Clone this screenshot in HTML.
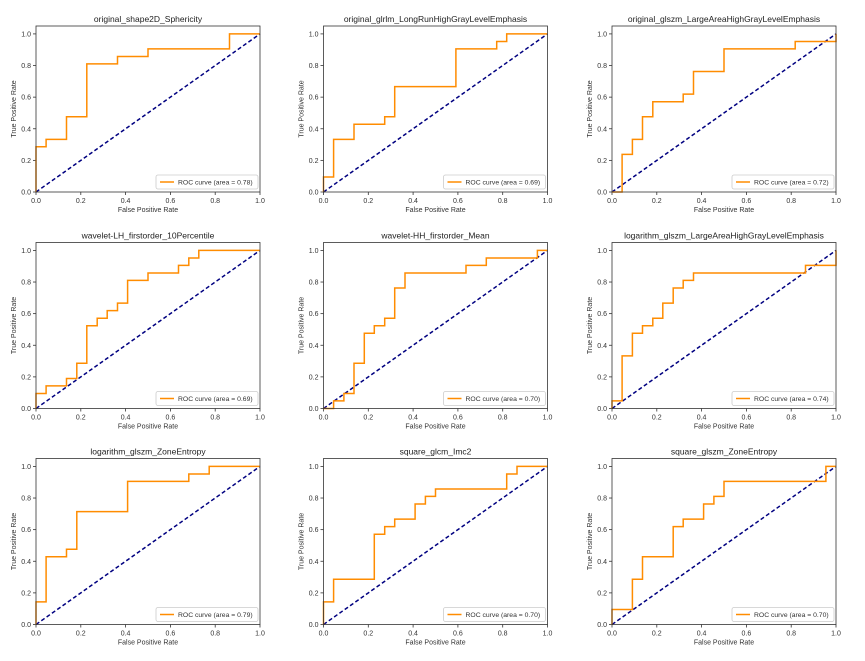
<!DOCTYPE html>
<html><head><meta charset="utf-8"><style>
html,body{margin:0;padding:0;background:#fff;}
svg{display:block;font-family:"Liberation Sans","DejaVu Sans",sans-serif;}
</style></head><body>
<svg id="fig" width="865" height="661" viewBox="0 0 865 661" xmlns="http://www.w3.org/2000/svg"></svg>
<script>
const titles = ["original_shape2D_Sphericity","original_glrlm_LongRunHighGrayLevelEmphasis","original_glszm_LargeAreaHighGrayLevelEmphasis","wavelet-LH_firstorder_10Percentile","wavelet-HH_firstorder_Mean","logarithm_glszm_LargeAreaHighGrayLevelEmphasis","logarithm_glszm_ZoneEntropy","square_glcm_Imc2","square_glszm_ZoneEntropy"];
const aucs = ["0.78","0.69","0.72","0.69","0.70","0.74","0.79","0.70","0.70"];
const fpr1 = [0,0,.045,.045,.136,.136,.227,.227,.364,.364,.5,.5,.864,.864,1];
const tpr1 = [0,.286,.286,.333,.333,.476,.476,.81,.81,.857,.857,.905,.905,1,1];
const fpr2 = [0,0,.045,.045,.136,.136,.273,.273,.318,.318,.591,.591,.773,.773,.818,.818,1];
const tpr2 = [0,.095,.095,.333,.333,.429,.429,.476,.476,.667,.667,.905,.905,.952,.952,1,1];
const fpr3 = [0,.045,.045,.091,.091,.136,.136,.182,.182,.318,.318,.364,.364,.5,.5,.818,.818,1,1];
const tpr3 = [0,0,.238,.238,.333,.333,.476,.476,.571,.571,.619,.619,.762,.762,.905,.905,.952,.952,1];
const fpr4 = [0,0,.045,.045,.136,.136,.182,.182,.227,.227,.273,.273,.318,.318,.364,.364,.409,.409,.5,.5,.636,.636,.682,.682,.727,.727,1];
const tpr4 = [0,.095,.095,.143,.143,.19,.19,.286,.286,.524,.524,.571,.571,.619,.619,.667,.667,.81,.81,.857,.857,.905,.905,.952,.952,1,1];
const fpr5 = [0,.045,.045,.091,.091,.136,.136,.182,.182,.227,.227,.273,.273,.318,.318,.364,.364,.636,.636,.727,.727,.955,.955,1];
const tpr5 = [0,0,.048,.048,.095,.095,.286,.286,.476,.476,.524,.524,.571,.571,.762,.762,.857,.857,.905,.905,.952,.952,1,1];
const fpr6 = [0,0,.045,.045,.091,.091,.136,.136,.182,.182,.227,.227,.273,.273,.318,.318,.364,.364,.864,.864,1,1];
const tpr6 = [0,.048,.048,.333,.333,.476,.476,.524,.524,.571,.571,.667,.667,.762,.762,.81,.81,.857,.857,.905,.905,1];
const fpr7 = [0,0,.045,.045,.136,.136,.182,.182,.409,.409,.682,.682,.773,.773,1];
const tpr7 = [0,.143,.143,.429,.429,.476,.476,.714,.714,.905,.905,.952,.952,1,1];
const fpr8 = [0,0,.045,.045,.227,.227,.273,.273,.318,.318,.409,.409,.455,.455,.5,.5,.818,.818,.864,.864,1];
const tpr8 = [0,.143,.143,.286,.286,.571,.571,.619,.619,.667,.667,.762,.762,.81,.81,.857,.857,.952,.952,1,1];
const fpr9 = [0,0,.091,.091,.136,.136,.273,.273,.318,.318,.409,.409,.455,.455,.5,.5,.955,.955,1];
const tpr9 = [0,.095,.095,.286,.286,.429,.429,.619,.619,.667,.667,.762,.762,.81,.81,.905,.905,1,1];
const fprs = [fpr1,fpr2,fpr3,fpr4,fpr5,fpr6,fpr7,fpr8,fpr9];
const tprs = [tpr1,tpr2,tpr3,tpr4,tpr5,tpr6,tpr7,tpr8,tpr9];
const ticks = [0,0.2,0.4,0.6,0.8,1.0];
const tickLabels = ["0.0","0.2","0.4","0.6","0.8","1.0"];

const NS="http://www.w3.org/2000/svg";
const svg=document.getElementById('fig');
function mk(tag,attrs,parent,text){const e=document.createElementNS(NS,tag);for(const k in attrs)e.setAttribute(k,attrs[k]);if(text!==undefined)e.textContent=text;parent.appendChild(e);return e;}
const colX=[36,323.5,612], rowY=[26,242.5,458.5], W=224, H=166;
for(let i=0;i<9;i++){
  const x0=colX[i%3], top=rowY[Math.floor(i/3)], y0=top+H;
  const sx=v=>x0+v*W, sy=v=>y0-v*(H/1.05);
  const g=mk('g',{},svg);
  
  
  const t=mk('text',{x:x0+W/2,y:top-4,'text-anchor':'middle','font-size':'8.5',fill:'#222'},g,titles[i]);
  
  
  // ticks
  ticks.forEach((v,k)=>{
    mk('line',{x1:sx(v),x2:sx(v),y1:y0,y2:y0+3,stroke:'#333','stroke-width':0.8},g);
    const tx=mk('text',{x:sx(v),y:y0+11,'text-anchor':'middle','font-size':'7',fill:'#333'},g,tickLabels[k]);
    
    
    mk('line',{x1:x0-3,x2:x0,y1:sy(v),y2:sy(v),stroke:'#333','stroke-width':0.8},g);
    const ty=mk('text',{x:x0-5,y:sy(v)+2.5,'text-anchor':'end','font-size':'7',fill:'#333'},g,tickLabels[k]);
    
    
  });
  const xl=mk('text',{x:x0+W/2,y:y0+20,'text-anchor':'middle','font-size':'7',fill:'#333'},g,'False Positive Rate');
  
  
  const yl=mk('text',{x:0,y:0,'text-anchor':'middle','font-size':'7',fill:'#333',transform:`translate(${x0-20},${top+H/2}) rotate(-90)`},g,'True Positive Rate');
  
  
  // diagonal
  const d=mk('line',{x1:sx(0),y1:sy(0),x2:sx(1),y2:sy(1),stroke:'#000080','stroke-width':1.5,'stroke-dasharray':'4,2.5'},g);
  
  
  // roc
  const pts=fprs[i].map((f,k)=>sx(f).toFixed(1)+','+sy(tprs[i][k]).toFixed(1)).join(' ');
  const p=mk('polyline',{points:pts,fill:'none',stroke:'#ff8c00','stroke-width':1.5},g);
  
  
  // frame
  const fr=mk('rect',{x:x0,y:top,width:W,height:H,fill:'none',stroke:'#333','stroke-width':0.8},g);
  
  
  // legend
  const lg=mk('g',{},g);
  
  
  mk('rect',{x:x0+W-104,y:y0-17,width:102,height:14,fill:'#fff',stroke:'#ccc','stroke-width':0.8,rx:2},lg);
  mk('line',{x1:x0+W-100,x2:x0+W-86,y1:y0-10,y2:y0-10,stroke:'#ff8c00','stroke-width':1.5},lg);
  mk('text',{x:x0+W-82,y:y0-7.5,'font-size':'6.8',fill:'#333'},lg,'ROC curve (area = '+aucs[i]+')');
}
</script>
</body></html>
